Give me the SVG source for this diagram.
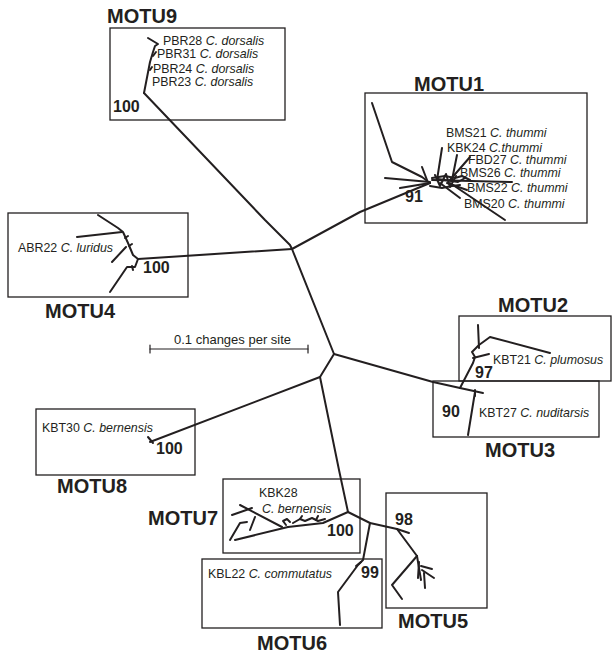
<svg xmlns="http://www.w3.org/2000/svg" width="613" height="657" viewBox="0 0 613 657">
<style>
.box{fill:none;stroke:#231f20;stroke-width:1.3}
.br{fill:none;stroke:#231f20;stroke-width:2;stroke-linejoin:round;stroke-linecap:round}
.motu{font-family:"Liberation Sans",Arial,sans-serif;font-weight:bold;font-size:20px;fill:#231f20}
.bs{font-family:"Liberation Sans",Arial,sans-serif;font-weight:bold;font-size:16px;fill:#231f20}
.tx{font-family:"Liberation Sans",Arial,sans-serif;font-size:12.4px;fill:#231f20}
.sc{font-family:"Liberation Sans",Arial,sans-serif;font-size:13px;fill:#231f20}
.it{font-style:italic}
</style>
<rect width="613" height="657" fill="#fff"/>
<g id="connectors">
<polyline class="br" points="144,93 265,220 290,245 292,249"/>
<polyline class="br" points="138,259 292,249"/>
<polyline class="br" points="292,249 360,212 430,183"/>
<polyline class="br" points="292,249 334,354"/>
<polyline class="br" points="334,354 433,382 460,388"/>
<polyline class="br" points="334,354 320,377"/>
<polyline class="br" points="320,377 150,442"/>
<polyline class="br" points="320,377 339,470 348,512"/>
<polyline class="br" points="348,512 370,523 397,529"/>
</g>
<g id="scalebar">
<line class="br" style="stroke-width:1.2" x1="150" y1="349" x2="308" y2="349"/>
<line class="br" style="stroke-width:1.2" x1="150" y1="345" x2="150" y2="353"/>
<line class="br" style="stroke-width:1.2" x1="308" y1="345" x2="308" y2="353"/>
<text class="sc" x="174" y="344">0.1 changes per site</text>
</g>
<g id="motu9">
<rect class="box" x="110" y="28" width="175" height="92"/>
<text class="motu" x="107" y="23">MOTU9</text>
<polyline class="br" points="144,93 150,62 153,52 155,46 158,44 148,38"/>
<polyline class="br" points="153,56 156,52"/>
<polyline class="br" points="150,70 152,67"/>
<text class="tx" x="163" y="45">PBR28 <tspan class="it">C. dorsalis</tspan></text>
<text class="tx" x="157" y="58">PBR31 <tspan class="it">C. dorsalis</tspan></text>
<text class="tx" x="153" y="73">PBR24 <tspan class="it">C. dorsalis</tspan></text>
<text class="tx" x="152" y="86">PBR23 <tspan class="it">C. dorsalis</tspan></text>
<text class="bs" x="113" y="112">100</text>
</g>
<g id="motu1">
<rect class="box" x="365" y="93" width="222" height="130"/>
<text class="motu" x="414" y="91">MOTU1</text>
<polyline class="br" points="372,103 392,162 422,177 430,183"/>
<polyline class="br" points="385,178 430,182"/>
<polyline class="br" points="400,188 430,183"/>
<polyline class="br" points="422,167 427,180"/>
<polyline class="br" points="442,148 437,180"/>
<polyline class="br" points="457,155 452,180"/>
<polyline class="br" points="470,157 450,180"/>
<polyline class="br" points="432,180 512,182"/>
<polyline class="br" points="440,183 460,198"/>
<polyline class="br" points="450,183 505,220"/>
<polyline class="br" points="447,183 467,190"/>
<polyline class="br" points="432,178 445,176 455,178 462,176 470,180"/>
<polyline class="br" points="430,186 442,188 452,186 460,185"/>
<polyline class="br" points="435,175 440,186 446,174 450,187 456,176"/>
<polyline class="br" points="438,179 458,182 465,178"/>
<text class="tx" x="446" y="137">BMS21 <tspan class="it">C. thummi</tspan></text>
<text class="tx" x="447" y="152">KBK24 <tspan class="it">C.thummi</tspan></text>
<text class="tx" x="468" y="164">FBD27 <tspan class="it">C. thummi</tspan></text>
<text class="tx" x="460" y="177">BMS26 <tspan class="it">C. thummi</tspan></text>
<text class="tx" x="467" y="192">BMS22 <tspan class="it">C. thummi</tspan></text>
<text class="tx" x="464" y="208">BMS20 <tspan class="it">C. thummi</tspan></text>
<text class="bs" x="405" y="202">91</text>
</g>
<g id="motu4">
<rect class="box" x="8" y="213" width="180" height="84"/>
<text class="motu" x="45" y="318">MOTU4</text>
<polyline class="br" points="138,259 133,255 128,243 123,232 118,228 98,215"/>
<polyline class="br" points="77,237 122,232"/>
<polyline class="br" points="126,247 112,262"/>
<polyline class="br" points="138,259 135,267 127,267 110,292"/>
<polyline class="br" points="125,238 128,236"/>
<polyline class="br" points="129,246 132,244"/>
<polyline class="br" points="132,266 133,270"/>
<text class="tx" x="18" y="252">ABR22 <tspan class="it">C. luridus</tspan></text>
<text class="bs" x="143" y="273">100</text>
</g>
<g id="motu2">
<rect class="box" x="459" y="316" width="152" height="65"/>
<text class="motu" x="498" y="312">MOTU2</text>
<polyline class="br" points="460,388 473,363 475,357 472,352 476,348 479,345"/>
<polyline class="br" points="478,325 479,348"/>
<polyline class="br" points="479,345 490,337 550,353"/>
<polyline class="br" points="473,358 489,354"/>
<text class="tx" x="493" y="364">KBT21 <tspan class="it">C. plumosus</tspan></text>
<text class="bs" x="475" y="378">97</text>
</g>
<g id="motu3">
<rect class="box" x="433" y="381" width="166" height="56"/>
<text class="motu" x="485" y="457">MOTU3</text>
<polyline class="br" points="460,388 483,393"/>
<polyline class="br" points="475,392 468,435"/>
<polyline class="br" points="475,390 475,396"/>
<text class="tx" x="479" y="417">KBT27 <tspan class="it">C. nuditarsis</tspan></text>
<text class="bs" x="442" y="417">90</text>
</g>
<g id="motu8">
<rect class="box" x="36" y="409" width="159" height="66"/>
<text class="motu" x="57" y="493">MOTU8</text>
<polyline class="br" points="148,437 153,443"/>
<text class="tx" x="42" y="432">KBT30 <tspan class="it">C. bernensis</tspan></text>
<text class="bs" x="156" y="454">100</text>
</g>
<g id="motu7">
<rect class="box" x="223" y="479" width="137" height="74"/>
<text class="motu" x="148" y="525">MOTU7</text>
<polyline class="br" points="348,512 323,523 288,527"/>
<polyline class="br" points="288,527 235,540"/>
<polyline class="br" points="240,505 282,527"/>
<polyline class="br" points="232,515 252,508"/>
<polyline class="br" points="255,517 250,530"/>
<polyline class="br" points="230,540 240,523 247,522"/>
<polyline class="br" points="286,525 283,521 287,519 290,522"/>
<polyline class="br" points="293,523 300,519 305,521 312,518 318,521 325,519"/>
<polyline class="br" points="300,519 302,516"/>
<polyline class="br" points="316,520 318,516"/>
<text class="tx" x="259" y="497">KBK28</text>
<text class="tx it" x="262" y="513">C. bernensis</text>
<text class="bs" x="327" y="536">100</text>
</g>
<g id="motu6">
<rect class="box" x="202" y="559" width="180" height="69"/>
<text class="motu" x="257" y="650">MOTU6</text>
<polyline class="br" points="370,523 363,560 358,565 338,592 340,625"/>
<polyline class="br" points="361,562 356,566"/>
<text class="tx" x="208" y="578">KBL22 <tspan class="it">C. commutatus</tspan></text>
<text class="bs" x="361" y="578">99</text>
</g>
<g id="motu5">
<rect class="box" x="386" y="493" width="101" height="115"/>
<text class="motu" x="398" y="628">MOTU5</text>
<polyline class="br" points="397,529 409,533"/>
<polyline class="br" points="397,529 417,556"/>
<polyline class="br" points="417,556 392,585 402,599"/>
<polyline class="br" points="417,556 421,580"/>
<polyline class="br" points="419,562 418,578"/>
<polyline class="br" points="421,566 432,569"/>
<polyline class="br" points="422,570 434,578"/>
<polyline class="br" points="424,573 425,588"/>
<text class="bs" x="395" y="525">98</text>
</g>
</svg>
